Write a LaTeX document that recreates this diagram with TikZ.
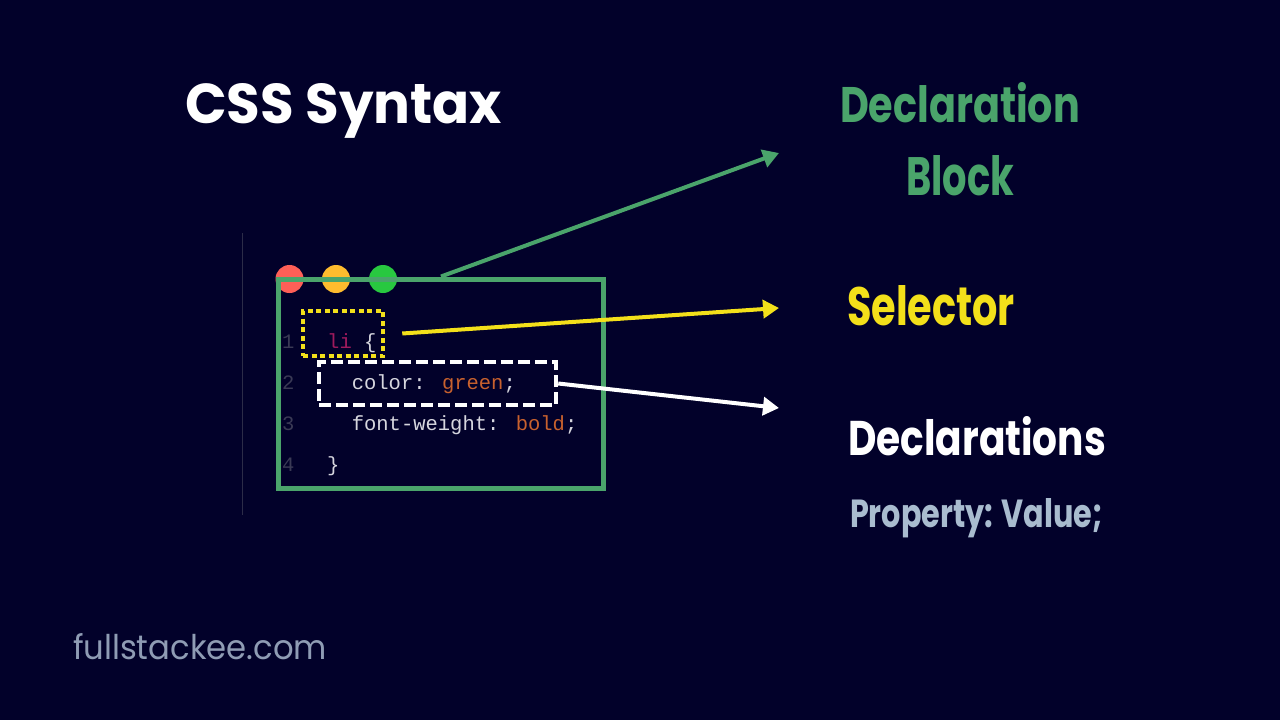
\documentclass[tikz,border=0pt]{standalone}
\usepackage{graphicx}
\usepackage{fontspec}
\usetikzlibrary{arrows.meta}
\newfontfamily\popfont{Poppins}
\newfontfamily\codefont{Liberation Mono}
\definecolor{bgnavy}{HTML}{02012A}
\definecolor{blockgreen}{HTML}{4AA46B}
\definecolor{selyellow}{HTML}{F3E01A}
\definecolor{propblue}{HTML}{A9BCCF}
\definecolor{sitegray}{HTML}{8F9CB4}
\definecolor{lnumgray}{HTML}{3A3A55}
\definecolor{edgegray}{HTML}{2C2C48}
\definecolor{codeprop}{HTML}{D6D6DE}
\definecolor{codeval}{HTML}{C8612E}
\definecolor{codesel}{HTML}{9E1A5C}
\definecolor{dotred}{HTML}{FE5F57}
\definecolor{dotorange}{HTML}{FEBC2E}
\definecolor{dotgreen}{HTML}{28C840}
\tikzset{
  lbl/.style={anchor=base west, inner sep=0pt, outer sep=0pt},
  codetxt/.style={anchor=base west, inner sep=0pt, font=\codefont\fontsize{20.5}{21}\selectfont, text=codeprop},
  lnum/.style={anchor=base west, inner sep=0pt, font=\codefont\fontsize{20.5}{21}\selectfont, text=lnumgray},
  conn/.style={line width=4pt, -{Triangle[length=16pt,width=18pt]}},
  tl/.style={circle, minimum size=28pt, inner sep=0pt}
}
\begin{document}
\begin{tikzpicture}[x=1pt,y=-1pt]
\useasboundingbox (0,0) rectangle (1280,720);
\fill[bgnavy] (0,0) rectangle (1280,720);

% title
\node[lbl, text=white] (title) at (185,123) {\resizebox{317pt}{40pt}{\popfont\bfseries CSS Syntax}};

% faint editor edge
\draw[edgegray, line width=1pt] (242,233) -- (242,515);

% traffic lights
\node[tl, fill=dotred] (dred) at (289.5,279) {};
\node[tl, fill=dotorange] (dorange) at (336,279) {};
\node[tl, fill=dotgreen] (dgreen) at (383,279) {};

% code box
\node[draw=blockgreen, line width=5pt, minimum width=325pt, minimum height=209pt, inner sep=0pt] (code) at (441,383.5) {};

% line numbers
\node[lnum] (n1) at (282,348) {1};
\node[lnum] (n2) at (282,389) {2};
\node[lnum] (n3) at (282,430) {3};
\node[lnum] (n4) at (282,471) {4};

% code
\node[codetxt] (c1) at (327,348) {\textcolor{codesel}{li} \{};
\node[codetxt] (c2) at (327,389) {\ \ color: \textcolor{codeval}{green};};
\node[codetxt] (c3) at (327,430) {\ \ font-weight: \textcolor{codeval}{bold};};
\node[codetxt] (c4) at (327,471) {\}};

% highlight boxes
\node[draw=selyellow, line width=4.5pt, dash pattern=on 5pt off 3.5pt, minimum width=80pt, minimum height=45pt, inner sep=0pt] (selbox) at (343,333.5) {};
\node[draw=white, line width=4.5pt, dash pattern=on 12pt off 5pt, minimum width=237pt, minimum height=43pt, inner sep=0pt] (declbox) at (437.5,383.5) {};

% arrow targets
\coordinate (tblock) at (779,153);
\coordinate (tsel) at (779,308);
\coordinate (tdecl) at (779,408);

% connectors
\draw[conn, blockgreen] (code.north) -- (tblock);
\draw[conn, selyellow] ([xshift=17pt]selbox.east) -- (tsel);
\draw[conn, white] (declbox.east) -- (tdecl);

% labels
\node[lbl, text=blockgreen] (ldecl) at (840,122) {\resizebox{240pt}{40pt}{\popfont\bfseries Declaration}};
\node[lbl, text=blockgreen] (lblock) at (906,195) {\resizebox{108pt}{40pt}{\popfont\bfseries Block}};
\node[lbl, text=selyellow] (lsel) at (847,325) {\resizebox{168pt}{40pt}{\popfont\bfseries Selector}};
\node[lbl, text=white] (ldecls) at (848,455) {\resizebox{258pt}{39pt}{\popfont\bfseries Declarations}};
\node[lbl, text=propblue] (lprop) at (850,527) {\resizebox{253pt}{29pt}{\popfont\bfseries Property: Value;}};

% site
\node[lbl, text=sitegray] (site) at (73,659) {\resizebox{254pt}{26pt}{\popfont fullstackee.com}};
\end{tikzpicture}
\end{document}
